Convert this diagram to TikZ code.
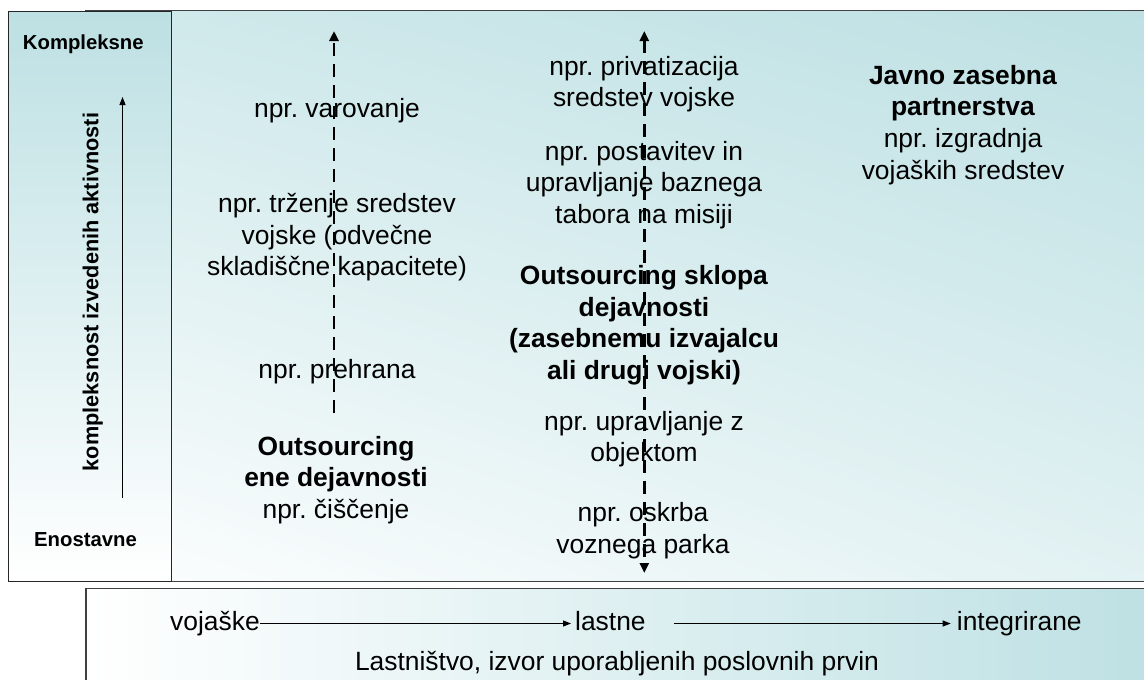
\documentclass[tikz,border=0pt]{standalone}
\usepackage{fontspec}
\setmainfont{Liberation Sans}
\usetikzlibrary{arrows.meta,shadings}
\definecolor{tealbg}{RGB}{189,224,227}
\definecolor{panelline}{RGB}{64,64,64}
\frenchspacing
\begin{document}
\begin{tikzpicture}[x=1pt,y=-1pt,
  txt/.style={inner sep=0pt, anchor=base, font=\fontsize{26.4}{31.8}\selectfont\frenchspacing},
  lbl/.style={inner sep=0pt, anchor=base, font=\fontsize{20.3}{24}\selectfont\bfseries},
  dasharrow/.style={line width=2.6pt, dash pattern=on 13pt off 8pt},
  tipd/.tip={Triangle[length=10pt,width=9pt]},
  thinarrow/.style={line width=1pt, -{Triangle[length=8pt,width=6pt]}},
  panel/.style={draw=panelline, line width=1.3pt}]
\useasboundingbox (0,0) rectangle (1144,680);
% main panel
\shade[upper left=tealbg!70!white, upper right=tealbg, lower left=tealbg!4!white, lower right=tealbg!45!white]
  (86,10.5) rectangle (1170,581.5);
\draw[panel] (86,10.5) rectangle (1170,581.5);
% left panel
\shade[top color=tealbg, bottom color=white] (8.3,11.5) rectangle (171.7,581.5);
\draw[draw=black!85, line width=1.1pt] (8.3,11.5) rectangle (171.7,581.5);
% bottom panel
\shade[left color=white, right color=tealbg] (86,588.5) rectangle (1170,720);
\draw[panel] (86,588.5) rectangle (1170,720);

% left panel labels
\node[lbl] (komp) at (83.3,49.3) {Kompleksne};
\node[lbl] (enos) at (85.5,546) {Enostavne};
\node[inner sep=0pt, anchor=base, rotate=90, font=\fontsize{21.7}{25}\selectfont\bfseries] (axis) at (98.3,292) {kompleksnost izvedenih aktivnosti};
\coordinate (ylo) at (122.5,498);
\coordinate (yhi) at (122.5,97);
\draw[thinarrow] (ylo) -- (yhi);

% column 1
\node[txt] (c1a) at (337,117) {npr. varovanje};
\node[txt] (c1b) at (337,212.3) {\begin{tabular}[t]{@{}c@{}}npr. trženje sredstev\\vojske (odvečne\\skladiščne kapacitete)\end{tabular}};
\node[txt] (c1c) at (337,378.3) {npr. prehrana};
\node[txt] (c1d) at (336,455) {\begin{tabular}[t]{@{}c@{}}\textbf{Outsourcing}\\\textbf{ene dejavnosti}\\npr. čiščenje\end{tabular}};

% column 2
\node[txt] (c2a) at (644,75) {\begin{tabular}[t]{@{}c@{}}npr. privatizacija\\sredstev vojske\end{tabular}};
\node[txt] (c2b) at (644,160) {\begin{tabular}[t]{@{}c@{}}npr. postavitev in\\upravljanje baznega\\tabora na misiji\end{tabular}};
\node[txt] (c2c) at (644,284.3) {\begin{tabular}[t]{@{}c@{}}\textbf{Outsourcing sklopa}\\\textbf{dejavnosti}\\\textbf{(zasebnemu izvajalcu}\\\textbf{ali drugi vojski)}\end{tabular}};
\node[txt] (c2d) at (644,430) {\begin{tabular}[t]{@{}c@{}}npr. upravljanje z\\objektom\end{tabular}};
\node[txt] (c2e) at (643,521.7) {\begin{tabular}[t]{@{}c@{}}npr. oskrba\\voznega parka\end{tabular}};

% column 3
\node[txt] (c3a) at (963,84) {\begin{tabular}[t]{@{}c@{}}\textbf{Javno zasebna}\\\textbf{partnerstva}\\npr. izgradnja\\vojaških sredstev\end{tabular}};

% dashed axes
\coordinate (d1lo) at (334,413);
\coordinate (d1hi) at (334,31);
\coordinate (d2hi) at (644.3,31);
\coordinate (d2lo) at (644.3,573);
\draw[dasharrow, -tipd] (d1lo) -- (d1hi);
\draw[dasharrow, tipd-tipd] (d2hi) -- (d2lo);

% bottom row
\node[txt, anchor=base west] (voj) at (170,630) {vojaške};
\node[txt, anchor=base west] (last) at (575,630) {lastne};
\node[txt, anchor=base west] (integ) at (956.7,630) {integrirane};
\node[txt] (own) at (617,670) {Lastništvo, izvor uporabljenih poslovnih prvin};
\draw[thinarrow] ([yshift=6.5pt]voj.base east) -- ([xshift=-4pt,yshift=6.5pt]last.base west);
\draw[thinarrow] ([xshift=28pt,yshift=6.5pt]last.base east) -- ([xshift=-6pt,yshift=6.5pt]integ.base west);
\end{tikzpicture}
\end{document}
